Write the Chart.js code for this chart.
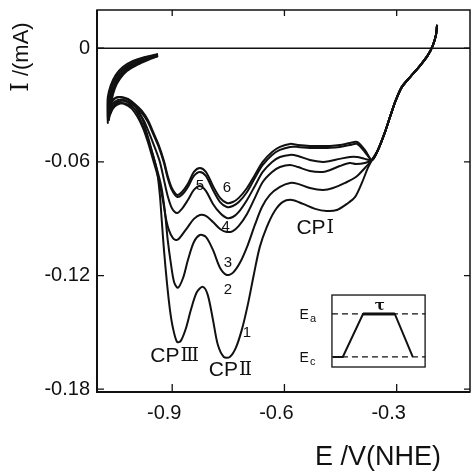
<!DOCTYPE html>
<html>
<head>
<meta charset="utf-8">
<script src="https://cdn.jsdelivr.net/npm/chart.js@4.4.1/dist/chart.umd.min.js"></script>
<style>
  html, body { margin: 0; padding: 0; background: #fff; }
  #wrap { width: 474px; height: 474px; }
</style>
</head>
<body>
<div id="wrap"><canvas id="cv" width="474" height="474"></canvas></div>
<script>
// potential E (V vs NHE) and current I (mA)
const xTicks = [-0.9, -0.6, -0.3];
const xTickLabels = ['-0.9', '-0.6', '-0.3'];
const yTicks = [0, -0.06, -0.12, -0.18];
const yTickLabels = ['0', '-0.06', '-0.12', '-0.18'];
const sweepNames = ['1', '2', '3', '4', '5', '6'];

// shared start of every sweep, from the anodic limit down to the crossing point
const tail = [[-0.192,0.0123],[-0.195,0.0070],[-0.203,0.0017],[-0.216,-0.0035],[-0.238,-0.0093],[-0.264,-0.0152],[-0.286,-0.0204],[-0.302,-0.0273],[-0.316,-0.0352],[-0.332,-0.0447],[-0.350,-0.0537],[-0.366,-0.0590]];

const sweep1 = [[-0.377,-0.0632],[-0.393,-0.0711],[-0.411,-0.0785],[-0.433,-0.0822],[-0.460,-0.0854],[-0.487,-0.0859],[-0.518,-0.0848],[-0.550,-0.0822],[-0.580,-0.0801],[-0.604,-0.0811],[-0.626,-0.0859],[-0.647,-0.0943],[-0.666,-0.1050],[-0.682,-0.1197],[-0.698,-0.1355],[-0.714,-0.1487],[-0.730,-0.1582],[-0.746,-0.1630],[-0.762,-0.1630],[-0.778,-0.1566],[-0.791,-0.1434],[-0.805,-0.1302],[-0.818,-0.1260],[-0.834,-0.1287],[-0.850,-0.1381],[-0.863,-0.1477],[-0.877,-0.1545],[-0.887,-0.1551],[-0.898,-0.1477],[-0.906,-0.1381],[-0.914,-0.1239],[-0.922,-0.1065],[-0.928,-0.0907],[-0.933,-0.0774],[-0.941,-0.0643],[-0.955,-0.0537],[-0.968,-0.0447],[-0.981,-0.0368],[-0.997,-0.0310],[-1.018,-0.0273],[-1.040,-0.0257],[-1.056,-0.0268],[-1.067,-0.0305],[-1.072,-0.0352],[-1.072,-0.0394],
  [-1.073,-0.0326],[-1.072,-0.0257],[-1.064,-0.0194],[-1.051,-0.0141],[-1.032,-0.0099],[-1.005,-0.0067],[-0.973,-0.0046],[-0.938,-0.0030]];

const sweep2 = [[-0.385,-0.0632],[-0.409,-0.0680],[-0.438,-0.0711],[-0.470,-0.0738],[-0.497,-0.0748],[-0.532,-0.0738],[-0.564,-0.0716],[-0.585,-0.0711],[-0.612,-0.0732],[-0.639,-0.0774],[-0.660,-0.0838],[-0.679,-0.0933],[-0.698,-0.1039],[-0.719,-0.1133],[-0.738,-0.1186],[-0.754,-0.1197],[-0.772,-0.1160],[-0.791,-0.1065],[-0.810,-0.0996],[-0.826,-0.0986],[-0.842,-0.1023],[-0.858,-0.1118],[-0.871,-0.1213],[-0.885,-0.1265],[-0.895,-0.1234],[-0.903,-0.1144],[-0.912,-0.1012],[-0.920,-0.0854],[-0.930,-0.0722],[-0.944,-0.0616],[-0.960,-0.0511],[-0.976,-0.0421],[-0.992,-0.0347],[-1.010,-0.0299],[-1.029,-0.0273],[-1.045,-0.0273],[-1.059,-0.0294],[-1.067,-0.0331],[-1.069,-0.0379],
  [-1.070,-0.0326],[-1.069,-0.0260],[-1.063,-0.0197],[-1.048,-0.0146],[-1.029,-0.0104],[-1.002,-0.0072],[-0.970,-0.0049],[-0.938,-0.0033]];

const sweep3 = [[-0.385,-0.0606],[-0.409,-0.0611],[-0.425,-0.0606],[-0.452,-0.0622],[-0.478,-0.0643],[-0.497,-0.0653],[-0.532,-0.0648],[-0.564,-0.0627],[-0.585,-0.0616],[-0.612,-0.0627],[-0.633,-0.0653],[-0.658,-0.0706],[-0.679,-0.0790],[-0.700,-0.0875],[-0.722,-0.0938],[-0.738,-0.0965],[-0.754,-0.0970],[-0.772,-0.0954],[-0.791,-0.0917],[-0.810,-0.0885],[-0.826,-0.0880],[-0.842,-0.0901],[-0.858,-0.0943],[-0.874,-0.0986],[-0.887,-0.1012],[-0.898,-0.1002],[-0.909,-0.0959],[-0.917,-0.0896],[-0.925,-0.0801],[-0.936,-0.0695],[-0.951,-0.0590],[-0.965,-0.0495],[-0.978,-0.0421],[-0.994,-0.0358],[-1.010,-0.0315],[-1.029,-0.0294],[-1.043,-0.0289],[-1.056,-0.0305],[-1.064,-0.0336],[-1.069,-0.0368],
  [-1.068,-0.0331],[-1.067,-0.0262],[-1.060,-0.0199],[-1.045,-0.0152],[-1.027,-0.0109],[-1.000,-0.0078],[-0.968,-0.0051],[-0.938,-0.0035]];

const sweep4 = [[-0.385,-0.0584],[-0.406,-0.0574],[-0.425,-0.0574],[-0.452,-0.0584],[-0.478,-0.0595],[-0.497,-0.0600],[-0.532,-0.0590],[-0.564,-0.0569],[-0.585,-0.0563],[-0.612,-0.0574],[-0.633,-0.0600],[-0.658,-0.0653],[-0.679,-0.0727],[-0.700,-0.0801],[-0.722,-0.0864],[-0.738,-0.0891],[-0.754,-0.0896],[-0.772,-0.0870],[-0.791,-0.0822],[-0.810,-0.0753],[-0.826,-0.0727],[-0.842,-0.0748],[-0.858,-0.0801],[-0.874,-0.0848],[-0.887,-0.0870],[-0.901,-0.0843],[-0.912,-0.0780],[-0.922,-0.0695],[-0.933,-0.0600],[-0.949,-0.0511],[-0.965,-0.0431],[-0.978,-0.0373],[-0.997,-0.0326],[-1.016,-0.0299],[-1.032,-0.0289],[-1.048,-0.0299],[-1.059,-0.0320],[-1.067,-0.0352],
  [-1.067,-0.0331],[-1.066,-0.0265],[-1.057,-0.0204],[-1.043,-0.0157],[-1.024,-0.0115],[-0.997,-0.0083],[-0.968,-0.0056],[-0.938,-0.0038]];

const sweep5 = [[-0.385,-0.0548],[-0.406,-0.0505],[-0.425,-0.0511],[-0.452,-0.0521],[-0.478,-0.0526],[-0.497,-0.0526],[-0.532,-0.0526],[-0.564,-0.0521],[-0.585,-0.0521],[-0.612,-0.0537],[-0.633,-0.0563],[-0.658,-0.0616],[-0.679,-0.0685],[-0.700,-0.0759],[-0.722,-0.0812],[-0.738,-0.0833],[-0.754,-0.0838],[-0.772,-0.0812],[-0.791,-0.0748],[-0.810,-0.0674],[-0.826,-0.0653],[-0.842,-0.0674],[-0.858,-0.0732],[-0.874,-0.0774],[-0.887,-0.0785],[-0.901,-0.0748],[-0.912,-0.0685],[-0.922,-0.0606],[-0.936,-0.0521],[-0.951,-0.0452],[-0.965,-0.0389],[-0.981,-0.0342],[-1.000,-0.0305],[-1.018,-0.0284],[-1.037,-0.0278],[-1.051,-0.0289],[-1.061,-0.0315],[-1.067,-0.0342],
  [-1.065,-0.0336],[-1.064,-0.0268],[-1.055,-0.0207],[-1.041,-0.0160],[-1.023,-0.0117],[-0.996,-0.0086],[-0.966,-0.0059],[-0.938,-0.0041]];

const sweep6 = [[-0.385,-0.0537],[-0.406,-0.0495],[-0.425,-0.0500],[-0.452,-0.0511],[-0.478,-0.0516],[-0.497,-0.0516],[-0.532,-0.0516],[-0.564,-0.0511],[-0.585,-0.0505],[-0.612,-0.0521],[-0.633,-0.0548],[-0.658,-0.0600],[-0.679,-0.0669],[-0.700,-0.0738],[-0.722,-0.0790],[-0.738,-0.0812],[-0.754,-0.0817],[-0.772,-0.0790],[-0.791,-0.0727],[-0.810,-0.0653],[-0.826,-0.0632],[-0.842,-0.0653],[-0.858,-0.0716],[-0.874,-0.0759],[-0.887,-0.0774],[-0.901,-0.0738],[-0.912,-0.0674],[-0.922,-0.0595],[-0.936,-0.0511],[-0.951,-0.0442],[-0.965,-0.0379],[-0.981,-0.0331],[-1.000,-0.0294],[-1.018,-0.0268],[-1.037,-0.0257],[-1.051,-0.0262],[-1.061,-0.0284],[-1.067,-0.0315],[-1.069,-0.0342],
  [-1.064,-0.0336],[-1.061,-0.0268],[-1.053,-0.0210],[-1.040,-0.0162],[-1.021,-0.0120],[-0.994,-0.0088],[-0.965,-0.0062],[-0.938,-0.0041]];

const sweeps = [sweep1, sweep2, sweep3, sweep4, sweep5, sweep6];

const ink = '#111';
const sans = '"Liberation Sans", "DejaVu Sans", sans-serif';
const roman = '"DejaVu Serif", serif';

// text placed in value space: curve numbers and peak names
const notes = [
  { t: '1', e: -0.700, i: -0.1503 },
  { t: '2', e: -0.751, i: -0.1276 },
  { t: '3', e: -0.751, i: -0.1133 },
  { t: '4', e: -0.757, i: -0.0943 },
  { t: '5', e: -0.826, i: -0.0727 },
  { t: '6', e: -0.754, i: -0.0738 }
];
const peakNames = [
  { t: 'CP', n: 'III', e: -0.895, i: -0.1625 },
  { t: 'CP', n: 'II', e: -0.746, i: -0.1700 },
  { t: 'CP', n: 'I', e: -0.519, i: -0.0949 }
];

// "CP" plus a serifed roman numeral (glyphs packed tight), centred on (cx, cy)
function drawPeakName(ctx, p, cx, cy) {
  ctx.font = '21px ' + sans;
  const w1 = ctx.measureText(p.t).width;
  ctx.font = '19px ' + roman;
  const step = ctx.measureText('I').width - 2;
  const w2 = step * p.n.length + 2;
  const left = cx - (w1 + w2) / 2;
  ctx.textAlign = 'left';
  ctx.font = '21px ' + sans;
  ctx.fillText(p.t, left, cy);
  ctx.font = '19px ' + roman;
  for (let k = 0; k < p.n.length; k++) ctx.fillText('I', left + w1 + 1 + k * step, cy);
}

const framePlugin = {
  id: 'frame',
  beforeDatasetsDraw(chart) {
    const { ctx, chartArea: a, scales: { y } } = chart;
    const y0 = y.getPixelForValue(0);
    ctx.save();
    ctx.strokeStyle = ink;
    ctx.lineWidth = 1.3;
    ctx.beginPath();
    ctx.moveTo(a.left, y0);
    ctx.lineTo(a.right, y0);
    ctx.stroke();
    ctx.restore();
  },
  afterDraw(chart) {
    const { ctx, chartArea: a, scales: { x, y } } = chart;
    ctx.save();
    ctx.strokeStyle = ink;
    ctx.fillStyle = ink;

    // box
    ctx.lineWidth = 1.5;
    ctx.strokeRect(a.left, a.top, a.right - a.left, a.bottom - a.top);
    ctx.lineWidth = 2;
    ctx.beginPath();
    ctx.moveTo(a.left, a.top);
    ctx.lineTo(a.left, a.bottom);
    ctx.lineTo(a.right, a.bottom);
    ctx.stroke();

    // inward ticks
    ctx.lineWidth = 1.3;
    ctx.beginPath();
    xTicks.forEach(v => {
      const px = x.getPixelForValue(v);
      ctx.moveTo(px, a.bottom); ctx.lineTo(px, a.bottom - 8);
      ctx.moveTo(px, a.top); ctx.lineTo(px, a.top + 6);
    });
    yTicks.forEach(v => {
      const py = y.getPixelForValue(v);
      ctx.moveTo(a.left, py); ctx.lineTo(a.left + 7, py);
      ctx.moveTo(a.right, py); ctx.lineTo(a.right - 6, py);
    });
    ctx.stroke();

    // axis titles
    ctx.textBaseline = 'middle';
    ctx.save();
    ctx.translate(22, 57);
    ctx.rotate(-Math.PI / 2);
    ctx.font = '24px ' + roman;
    const wI = ctx.measureText('I').width;
    ctx.font = '22px ' + sans;
    const wRest = ctx.measureText(' /(mA)').width;
    ctx.textAlign = 'left';
    ctx.font = '24px ' + roman;
    ctx.fillText('I', -(wI + wRest) / 2, 0);
    ctx.font = '22px ' + sans;
    ctx.fillText(' /(mA)', -(wI + wRest) / 2 + wI, 0);
    ctx.restore();
    ctx.textAlign = 'center';
    ctx.font = '27px ' + sans;
    ctx.fillText('E /V(NHE)', 378, 458);

    // curve numbers and peak names
    ctx.font = '15px ' + sans;
    notes.forEach(n => {
      ctx.fillText(n.t, x.getPixelForValue(n.e), y.getPixelForValue(n.i));
    });
    peakNames.forEach(p => drawPeakName(ctx, p, x.getPixelForValue(p.e), y.getPixelForValue(p.i)));

    // inset: potential programme of the pulse
    const bx0 = x.getPixelForValue(-0.473), bx1 = x.getPixelForValue(-0.224);
    const by0 = y.getPixelForValue(-0.1303), by1 = y.getPixelForValue(-0.1683);
    const ea = y.getPixelForValue(-0.1403), ec = y.getPixelForValue(-0.1630);
    ctx.lineWidth = 1.3;
    ctx.strokeRect(bx0, by0, bx1 - bx0, by1 - by0);
    ctx.setLineDash([6, 4]);
    ctx.beginPath();
    ctx.moveTo(bx0, ea); ctx.lineTo(bx1, ea);
    ctx.moveTo(bx0, ec); ctx.lineTo(bx1, ec);
    ctx.stroke();
    ctx.setLineDash([]);
    ctx.lineWidth = 2;
    ctx.beginPath();
    ctx.moveTo(x.getPixelForValue(-0.470), ec);
    ctx.lineTo(x.getPixelForValue(-0.444), ec);
    ctx.lineTo(x.getPixelForValue(-0.390), ea);
    ctx.lineTo(x.getPixelForValue(-0.305), ea);
    ctx.lineTo(x.getPixelForValue(-0.257), ec);
    ctx.stroke();
    ctx.lineWidth = 3;
    ctx.beginPath();
    ctx.moveTo(x.getPixelForValue(-0.390), ea);
    ctx.lineTo(x.getPixelForValue(-0.305), ea);
    ctx.stroke();
    ctx.font = '14px ' + sans;
    ctx.textAlign = 'right';
    ctx.fillText('E', bx0 - 23, ea + 1);
    ctx.fillText('E', bx0 - 23, ec + 1);
    ctx.font = '11px ' + sans;
    ctx.textAlign = 'left';
    ctx.fillText('a', bx0 - 22, ea + 5);
    ctx.fillText('c', bx0 - 22, ec + 5);
    ctx.textAlign = 'center';
    ctx.font = 'bold 15px "DejaVu Serif", serif';
    ctx.fillText('\u03c4', x.getPixelForValue(-0.345), ea - 8);
    ctx.restore();
  }
};

new Chart(document.getElementById('cv').getContext('2d'), {
  type: 'scatter',
  data: {
    datasets: sweeps.map((s, k) => ({
      label: sweepNames[k],
      data: tail.concat(s).map(p => ({ x: p[0], y: p[1] })),
      showLine: true,
      borderColor: ink,
      borderWidth: 2,
      pointRadius: 0,
      tension: 0.3,
      fill: false
    }))
  },
  options: {
    responsive: false,
    animation: false,
    devicePixelRatio: 1,
    layout: { padding: { top: 10, right: 4, left: 0, bottom: 0 } },
    plugins: { legend: { display: false }, tooltip: { enabled: false } },
    scales: {
      x: {
        type: 'linear', min: -1.101, max: -0.104,
        grid: { display: false, drawTicks: false },
        border: { display: false },
        afterBuildTicks: s => { s.ticks = xTicks.map(v => ({ value: v })); },
        afterFit: s => { s.height = 82; s.paddingLeft = 0; s.paddingRight = 0; },
        ticks: {
          callback: v => xTickLabels[xTicks.indexOf(v)],
          font: { family: sans, size: 20 }, color: ink, padding: 9, maxRotation: 0,
          labelOffset: -8
        }
      },
      y: {
        type: 'linear', min: -0.1815, max: 0.0202,
        grid: { display: false, drawTicks: false },
        border: { display: false },
        afterBuildTicks: s => { s.ticks = yTicks.map(v => ({ value: v })); },
        afterFit: s => { s.width = 97; s.paddingTop = 0; s.paddingBottom = 0; },
        ticks: {
          callback: v => yTickLabels[yTicks.indexOf(v)],
          font: { family: sans, size: 20 }, color: ink, padding: 7
        }
      }
    }
  },
  plugins: [framePlugin]
});
</script>
</body>
</html>
